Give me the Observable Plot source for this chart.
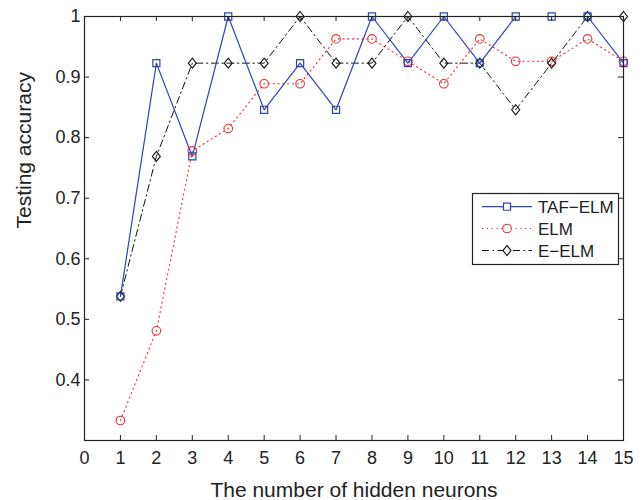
<!DOCTYPE html>
<html><head><meta charset="utf-8">
<script src="https://cdn.jsdelivr.net/npm/d3@7"></script>
<script src="https://cdn.jsdelivr.net/npm/@observablehq/plot@0.6"></script>
<style>body{margin:0;background:#fff}#chart svg{display:block}</style>
</head><body><div id="chart"></div>
<script>
const neurons = [1,2,3,4,5,6,7,8,9,10,11,12,13,14,15];
const tafElm = [0.538,0.923,0.769,1,0.846,0.923,0.846,1,0.923,1,0.923,1,1,1,0.923];
const elm = [0.333,0.481,0.778,0.815,0.889,0.889,0.963,0.963,0.926,0.889,0.963,0.926,0.926,0.963,0.926];
const eElm = [0.538,0.769,0.923,0.923,0.923,1,0.923,0.923,1,0.923,0.923,0.846,0.923,1,1];
const seriesNames = ["TAF\u2212ELM","ELM","E\u2212ELM"];
const xTicks = [0,1,2,3,4,5,6,7,8,9,10,11,12,13,14,15];
const yTicks = [0.4,0.5,0.6,0.7,0.8,0.9,1];
const yTickLabels = ["0.4","0.5","0.6","0.7","0.8","0.9","1"];
const xTitle = "The number of hidden neurons";
const yTitle = "Testing accuracy";

const W = 644, H = 500, mL = 84, mR = 21, mT = 16, mB = 60;
const fH = H - mT - mB, fW = W - mL - mR, tk = 5;
const font = "'Liberation Sans', Arial, Helvetica, sans-serif";
const blue = "#2f45b0", red = "#f03030", black = "#111";

const diamond = {draw(ctx, size){const s = Math.sqrt(size); const hy = s*0.63, hx = s*0.5;
  ctx.moveTo(0,-hy); ctx.lineTo(hx,0); ctx.lineTo(0,hy); ctx.lineTo(-hx,0); ctx.closePath();}};

const rows = neurons.map((n,i)=>({n, taf: tafElm[i], elm: elm[i], e: eElm[i]}));

const svg = Plot.plot({
  width: W, height: H, marginLeft: mL, marginRight: mR, marginTop: mT, marginBottom: mB,
  style: {fontFamily: font, color: "#222", background: "white", overflow: "visible"},
  x: {domain: [0,15]},
  y: {domain: [0.3,1]},
  marks: [
    Plot.line(rows, {x:"n", y:"elm", stroke: red, strokeWidth: 1.1, strokeDasharray: "1.2,3.6"}),
    Plot.line(rows, {x:"n", y:"e", stroke: black, strokeWidth: 1, strokeDasharray: "7,3.5,1.5,3.5"}),
    Plot.line(rows, {x:"n", y:"taf", stroke: blue, strokeWidth: 1.2}),
    Plot.dot(rows, {x:"n", y:"elm", r: 4.3, stroke: red, fill: "none", strokeWidth: 1.1}),
    Plot.dot(rows, {x:"n", y:"e", symbol: diamond, r: 4.5, stroke: black, fill: "none", strokeWidth: 1.1}),
    Plot.dot(rows, {x:"n", y:"taf", symbol: "square", r: 4, stroke: blue, fill: "none", strokeWidth: 1.2}),
    Plot.frame({stroke: "#222", strokeWidth: 1.2}),
    Plot.tickX(xTicks, {x: d=>d, insetTop: fH - tk, stroke: "#222"}),
    Plot.tickX(xTicks, {x: d=>d, insetBottom: fH - tk, stroke: "#222"}),
    Plot.tickY(yTicks, {y: d=>d, insetRight: fW - tk, stroke: "#222"}),
    Plot.tickY(yTicks, {y: d=>d, insetLeft: fW - tk, stroke: "#222"}),
    Plot.axisX(xTicks, {tickSize: 0, tickPadding: 11, fontSize: 18, label: null, tickFormat: d=>String(d)}),
    Plot.axisY(yTicks, {tickSize: 0, tickPadding: 4, fontSize: 18, label: null, tickFormat: d=>yTickLabels[yTicks.indexOf(d)]}),
    Plot.text([xTitle], {text: d=>d, frameAnchor: "bottom", lineAnchor: "bottom", dy: 56, fontSize: 21, fill: "#222"}),
    Plot.text([yTitle], {text: d=>d, frameAnchor: "left", rotate: -90, dx: -60, fontSize: 21, fill: "#222"})
  ]
});

// legend
const g = d3.select(svg).append("g").attr("font-family", font).attr("font-size", 17)
  .attr("fill", "#222").attr("text-anchor", "start");
g.append("rect").attr("x", 472.5).attr("y", 193.5).attr("width", 146).attr("height", 71)
  .attr("fill", "white").attr("stroke", "#222").attr("stroke-width", 1.2);
const legendStyles = [
  {stroke: blue, dash: null, sym: d3.symbol(d3.symbolSquare, 50)(), sw: 1.2},
  {stroke: red, dash: "1.2,3.6", sym: null, sw: 1.1},
  {stroke: black, dash: "7,3.5,1.5,3.5", sym: d3.symbol(diamond, 63)(), sw: 1}
];
const rowY = [206.7, 228.5, 250.5];
seriesNames.forEach((name, i) => {
  const st = legendStyles[i], y = rowY[i];
  const row = g.append("g");
  row.append("line").attr("x1", 482).attr("x2", 532).attr("y1", y).attr("y2", y)
    .attr("stroke", st.stroke).attr("stroke-width", st.sw).attr("stroke-dasharray", st.dash);
  if (st.sym) row.append("path").attr("d", st.sym).attr("transform", `translate(507,${y})`)
    .attr("fill", "white").attr("stroke", st.stroke).attr("stroke-width", 1.2);
  else row.append("circle").attr("cx", 507).attr("cy", y).attr("r", 4.3)
    .attr("fill", "white").attr("stroke", st.stroke).attr("stroke-width", 1.1);
  row.append("text").attr("x", 538).attr("y", y).attr("dy", "0.36em").attr("text-anchor", "start").text(name);
});

document.getElementById("chart").appendChild(svg);
</script>
</body></html>
